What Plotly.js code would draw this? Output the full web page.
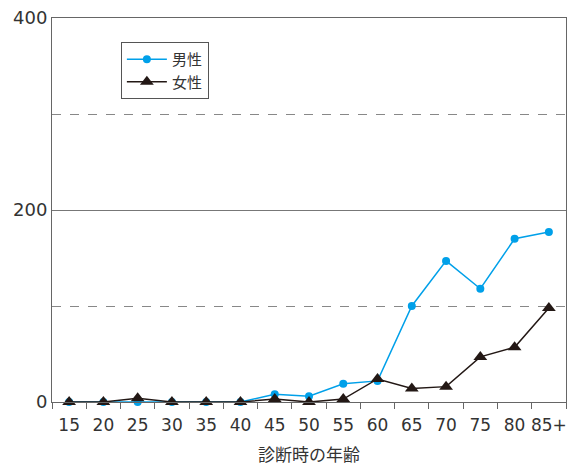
<!DOCTYPE html>
<html><head><meta charset="utf-8">
<script src="https://cdn.plot.ly/plotly-3.0.1.min.js"></script>
<style>html,body{margin:0;padding:0;background:#fff}#chart{width:575px;height:466px}</style>
</head><body><div id="chart"></div>
<script>
const ageGroups = ['15','20','25','30','35','40','45','50','55','60','65','70','75','80','85+'];
const male   = [0, 0, 0, 0, 0, 0, 8, 6, 19, 22, 100, 147, 118, 170, 177];
const female = [0, 0, 4, 0, 0, 0, 3, 0, 3, 24, 14, 16, 47, 57, 98];
const seriesNames = ['男性', '女性'];
const xTitle = '診断時の年齢';

const font = 'DejaVu Sans, Liberation Sans, Noto Sans CJK JP, sans-serif';
const traces = [
  {x: ageGroups, y: male, name: seriesNames[0], type: 'scatter', mode: 'lines+markers',
   line: {color: '#00a0e9', width: 1.5}, marker: {symbol: 'circle', size: 8, color: '#00a0e9'}, cliponaxis: false},
  {x: ageGroups, y: female, name: seriesNames[1], type: 'scatter', mode: 'lines+markers',
   line: {color: '#231815', width: 1.5}, marker: {symbol: 'triangle-up', size: 12, color: '#231815'}, cliponaxis: false}
];
const layout = {
  width: 575, height: 466,
  margin: {l: 52, r: 9, t: 18, b: 64},
  paper_bgcolor: '#fff', plot_bgcolor: '#fff',
  font: {family: font, color: '#333', size: 16},
  showlegend: true,
  legend: {x: 0.134, y: 0.9375, xanchor: 'left', yanchor: 'top', bgcolor: '#fff',
    bordercolor: '#555', borderwidth: 1, font: {size: 15, color: '#333', family: 'Noto Sans CJK JP, sans-serif'},
    tracegroupgap: 0, itemwidth: 40},
  xaxis: {type: 'category', range: [-0.5, 14.5], tickson: 'boundaries', ticks: 'outside', ticklen: 6, tickcolor: '#666',
    tickangle: 0, ticklabelstandoff: 8,
    showline: true, linecolor: '#666', linewidth: 1, mirror: true, showgrid: false, zeroline: false,
    tickfont: {size: 17, color: '#333'},
    title: {text: xTitle, font: {size: 17, color: '#333', family: 'Noto Sans CJK JP, sans-serif'}, standoff: 14}},
  yaxis: {range: [0, 400], dtick: 200, tick0: 0, ticks: '', showline: true, linecolor: '#666', linewidth: 1, mirror: true,
    showgrid: true, gridcolor: '#777', gridwidth: 1, zeroline: false,
    tickfont: {size: 18, color: '#333'},
    minor: {dtick: 100, tick0: 0, showgrid: true, griddash: 'dash', gridcolor: '#888', gridwidth: 1, ticks: ''}}
};
Plotly.newPlot('chart', traces, layout, {displayModeBar: false, staticPlot: true});
</script></body></html>
